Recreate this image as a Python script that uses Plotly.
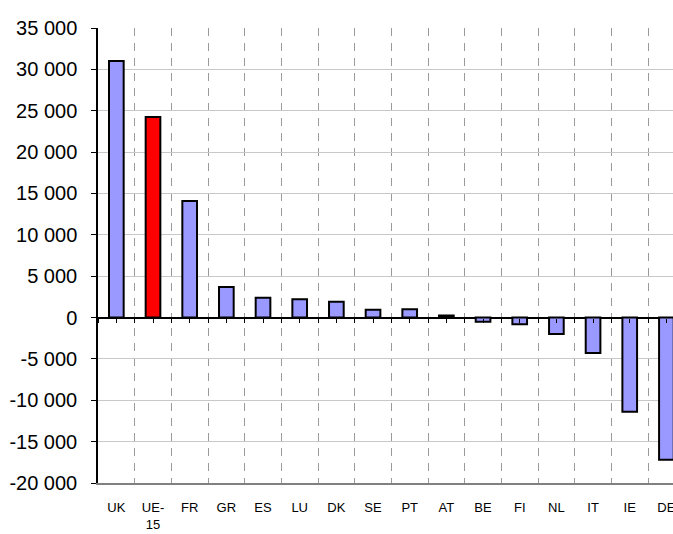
import plotly.graph_objects as go

countries = ["UK", "UE-<br>15", "FR", "GR", "ES", "LU", "DK", "SE", "PT", "AT", "BE", "FI", "NL", "IT", "IE", "DE"]
values = [31000, 24250, 14100, 3700, 2400, 2200, 1900, 950, 1000, 250, -500, -800, -2000, -4300, -11400, -17200]
highlight = "UE-<br>15"

y_tickvals = [-20000, -15000, -10000, -5000, 0, 5000, 10000, 15000, 20000, 25000, 30000, 35000]
y_ticktext = ["-20 000", "-15 000", "-10 000", "-5 000", "0", "5 000", "10 000", "15 000", "20 000", "25 000", "30 000", "35 000"]

colors = ["#FF0000" if c == highlight else "#9999FF" for c in countries]

fig = go.Figure()
fig.add_trace(go.Bar(
    x=countries, y=values,
    marker=dict(color=colors, line=dict(color="#000000", width=2)),
    width=0.4,
    hoverinfo="skip",
))
# empty helper trace so the tick-mark axis at y=0 gets drawn
fig.add_trace(go.Scatter(x=[], y=[], xaxis="x2", yaxis="y", hoverinfo="skip"))

xr = [-0.5, 15.18]
yr = [-20000, 35000]
zero_pos = (0 - yr[0]) / (yr[1] - yr[0])

fig.update_layout(
    width=673, height=534,
    margin=dict(l=98, r=0, t=28, b=51, autoexpand=False),
    paper_bgcolor="white", plot_bgcolor="white",
    font=dict(family="Arial, Liberation Sans, sans-serif", color="black"),
    showlegend=False,
    xaxis=dict(
        type="category", range=xr,
        tickson="boundaries",
        showgrid=True, gridcolor="#9a9a9a", griddash="8px,7px", gridwidth=1,
        ticks="", tickfont=dict(size=13), ticklabelstandoff=12,
        showline=True, linecolor="#808080", linewidth=1.5,
        zeroline=False, automargin=False,
    ),
    xaxis2=dict(
        type="linear", range=xr, overlaying="x", anchor="free", position=zero_pos,
        side="bottom", tick0=-0.5, dtick=0.5, ticks="outside", ticklen=4,
        tickcolor="black", tickwidth=1, showticklabels=False, showgrid=False,
        showline=False, zeroline=False, automargin=False,
    ),
    yaxis=dict(
        range=yr, tickvals=y_tickvals, ticktext=y_ticktext,
        tickfont=dict(size=20), ticks="outside", ticklen=5, tickcolor="black",
        ticklabelstandoff=10,
        showgrid=True, gridcolor="#c8c8c8", gridwidth=1,
        showline=True, linecolor="black", linewidth=1.5,
        zeroline=True, zerolinecolor="black", zerolinewidth=1.5,
        automargin=False,
    ),
)

fig.write_html(
    "out.html",
    config={"displayModeBar": False},
    post_script="document.body.style.margin='0';document.body.style.overflow='hidden';",
)
